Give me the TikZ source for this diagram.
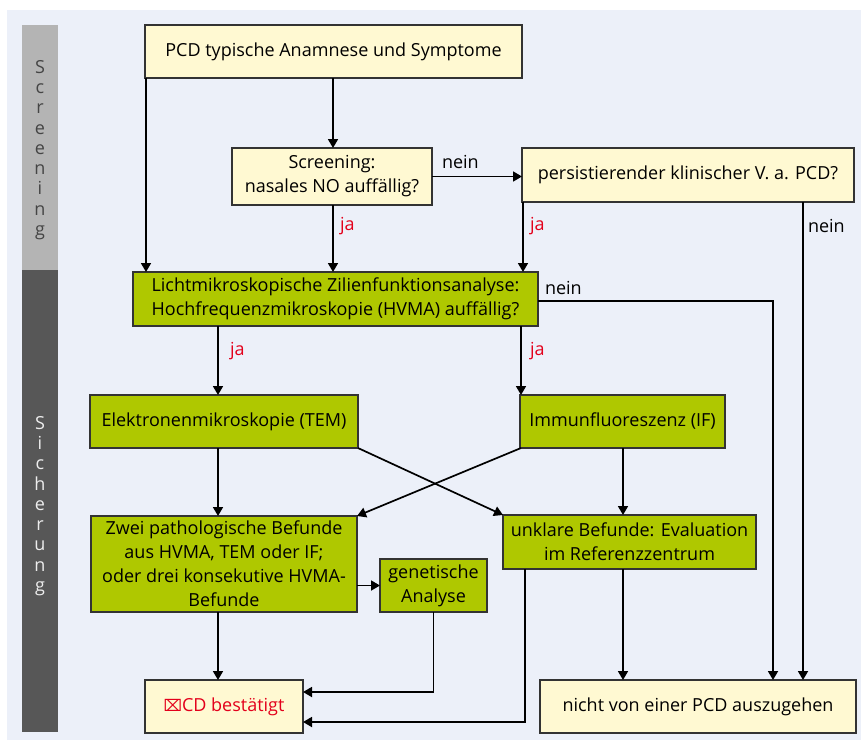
\documentclass[tikz,border=0pt]{standalone}
\usepackage{fontspec}
\setmainfont{Open Sans}
\newfontfamily\symf{DejaVu Sans}
\usetikzlibrary{arrows.meta,calc}
\definecolor{bgblue}{HTML}{ECF0F9}
\definecolor{boxyellow}{HTML}{FFF9D2}
\definecolor{boxgreen}{HTML}{AFC800}
\definecolor{sidelight}{HTML}{B4B4B4}
\definecolor{sidedark}{HTML}{575757}
\definecolor{jared}{HTML}{E3001B}
\definecolor{lettergrey}{HTML}{454545}
\definecolor{letterlight}{HTML}{EDEDED}
\begin{document}
\begin{tikzpicture}[x=1pt,y=-1pt,
  font=\fontsize{18}{24}\selectfont,
  every node/.style={inner sep=0pt, outer sep=0pt},
  ybox/.style={draw=black!80, line width=1.1pt, fill=boxyellow, align=center},
  gbox/.style={draw=black!80, line width=1.1pt, fill=boxgreen, align=center},
  conn/.style={line width=1.7pt, -{Triangle[length=9pt,width=10pt]}},
  jalab/.style={text=jared, anchor=west},
  neinlab/.style={anchor=west},
  sidetext/.style={align=center, font=\fontsize{18}{20.3}\selectfont}]
\useasboundingbox (0,0) rectangle (861,740);
\fill[white] (0,0) rectangle (861,740);
\fill[bgblue] (7,10) rectangle (861,740);
\fill[sidelight] (22,25) rectangle (58,270);
\fill[sidedark] (22,270) rectangle (58,732);
\node[sidetext, text=lettergrey] (sidescr) at (40,150) {S\\c\\r\\e\\e\\n\\i\\n\\g};
\node[sidetext, text=letterlight] (sidesich) at (40,506) {S\\i\\c\\h\\e\\r\\u\\n\\g};

% nodes
\node[ybox, minimum width=377pt, minimum height=53pt] (n1) at (333.5,51.5) {PCD typische Anamnese und Symptome};
\node[ybox, minimum width=200pt, minimum height=57pt] (scr) at (332,176.5) {Screening:\\nasales NO auffällig?};
\node[ybox, minimum width=332pt, minimum height=54pt] (pers) at (688,175) {persistierender klinischer V. a. PCD?};
\node[gbox, minimum width=405pt, minimum height=54pt] (licht) at (335.5,299) {Lichtmikroskopische Zilienfunktionsanalyse:\\Hochfrequenzmikroskopie (HVMA) auffällig?};
\node[gbox, minimum width=268pt, minimum height=53pt] (tem) at (224,421.5) {Elektronenmikroskopie (TEM)};
\node[gbox, minimum width=205pt, minimum height=53pt] (if) at (622.5,421.5) {Immunfluoreszenz (IF)};
\node[gbox, minimum width=266pt, minimum height=96pt] (zwei) at (224,564) {Zwei pathologische Befunde\\aus HVMA, TEM oder IF;\\oder drei konsekutive HVMA-\\Befunde};
\node[gbox, minimum width=107pt, minimum height=53pt] (gen) at (433.5,585.5) {genetische\\Analyse};
\node[gbox, minimum width=253pt, minimum height=54pt] (unk) at (629.5,542) {unklare Befunde: Evaluation\\im Referenzzentrum};
\node[ybox, minimum width=158pt, minimum height=53pt, text=jared] (pcd) at (224,706.5) {{\symf\fontsize{16}{16}\selectfont ⌧}CD bestätigt};
\node[ybox, minimum width=316pt, minimum height=53pt] (nicht) at (698,706.5) {nicht von einer PCD auszugehen};

% coordinates for vertical lines
\coordinate (xl) at (146,0);
\coordinate (xm) at (333,0);
\coordinate (xr) at (523,0);
\coordinate (xn1) at (773,0);
\coordinate (xn2) at (803,0);
\coordinate (xa) at (218,0);
\coordinate (xb) at (521,0);
\coordinate (xc) at (623,0);
\coordinate (xu) at (525,0);
\coordinate (yg) at (0,692);
\coordinate (yu) at (0,722);
\coordinate (yl) at (0,301);

% connectors
\draw[conn] (xm |- n1.south) -- (xm |- scr.north);
\draw[conn] (xl |- n1.south) -- (xl |- licht.north);
\draw[conn] (scr.east) -- (scr.east -| pers.west);
\draw[conn] (xm |- scr.south) -- (xm |- licht.north);
\draw[conn] (xr |- pers.south) -- (xr |- licht.north);
\draw[conn] (xn2 |- pers.south) -- (xn2 |- nicht.north);
\draw[conn] (licht.east |- yl) -- (xn1 |- yl) -- (xn1 |- nicht.north);
\draw[conn] (xa |- licht.south) -- (xa |- tem.north);
\draw[conn] (xb |- licht.south) -- (xb |- if.north);
\draw[conn] (xa |- tem.south) -- (xa |- zwei.north);
\draw[conn] (tem.south east) -- (unk.north west);
\draw[conn] ($(if.south west)+(1,0)$) -- (zwei.north east);
\draw[conn] (xc |- if.south) -- (xc |- unk.north);
\draw[conn] (gen.west -| zwei.east) -- (gen.west);
\draw[conn] (xa |- zwei.south) -- (xa |- pcd.north);
\draw[conn] (gen.south) -- (gen.south |- yg) -- (pcd.east |- yg);
\draw[conn] (xu |- unk.south) -- (xu |- yu) -- (pcd.east |- yu);
\draw[conn] (xc |- unk.south) -- (xc |- nicht.north);

% labels
\node[neinlab] (l1) at (442,162) {nein};
\node[jalab] (l2) at (340,226) {ja};
\node[jalab] (l3) at (530,226) {ja};
\node[neinlab] (l4) at (808,226) {nein};
\node[neinlab] (l5) at (545,288) {nein};
\node[jalab] (l6) at (230,351) {ja};
\node[jalab] (l7) at (530,351) {ja};
\end{tikzpicture}
\end{document}
